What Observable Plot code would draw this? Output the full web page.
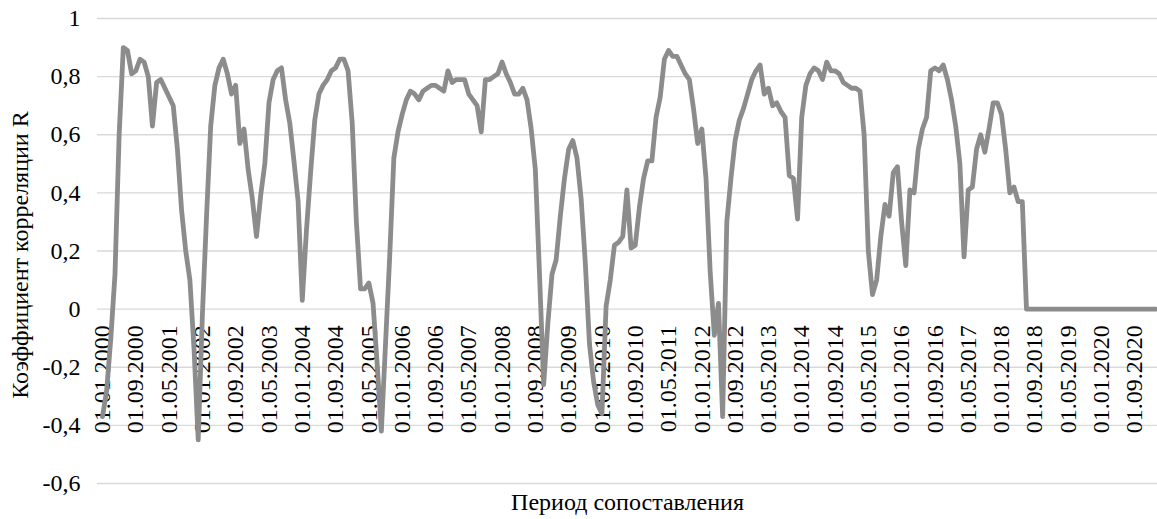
<!DOCTYPE html>
<html><head><meta charset="utf-8">
<script src="https://cdn.jsdelivr.net/npm/d3@7"></script>
<script src="https://cdn.jsdelivr.net/npm/@observablehq/plot@0.6"></script>
<style>
body{margin:0;background:#fff}
#chart svg, #chart svg text{font-family:"Liberation Serif","Times New Roman",serif !important;}
</style>
</head><body><div id="chart"></div>
<script>
const startYear = 2000;
// monthly correlation coefficient R, from 01.01.2000
const values = [
  -0.37, -0.28, -0.1, 0.12, 0.6, 0.9, 0.89, 0.81, 0.82, 0.86,
  0.85, 0.8, 0.63, 0.78, 0.79, 0.76, 0.73, 0.7, 0.55, 0.34,
  0.2, 0.1, -0.14, -0.45, -0.02, 0.32, 0.63, 0.77, 0.83, 0.86,
  0.81, 0.74, 0.77, 0.57, 0.62, 0.48, 0.38, 0.25, 0.39, 0.5,
  0.71, 0.79, 0.82, 0.83, 0.72, 0.64, 0.51, 0.37, 0.03, 0.27,
  0.47, 0.65, 0.74, 0.77, 0.79, 0.82, 0.83, 0.86, 0.86, 0.82,
  0.64, 0.3, 0.07, 0.07, 0.09, 0.02, -0.19, -0.42, -0.12, 0.18,
  0.52, 0.61, 0.67, 0.72, 0.75, 0.74, 0.72, 0.75, 0.76, 0.77,
  0.77, 0.76, 0.75, 0.82, 0.78, 0.79, 0.79, 0.79, 0.74, 0.72,
  0.7, 0.61, 0.79, 0.79, 0.8, 0.81, 0.85, 0.81, 0.78, 0.74,
  0.74, 0.76, 0.72, 0.62, 0.48, 0.12, -0.26, -0.05, 0.12, 0.17,
  0.32, 0.45, 0.55, 0.58, 0.52, 0.38, 0.16, -0.12, -0.25, -0.33,
  -0.36, 0.01, 0.1, 0.22, 0.23, 0.25, 0.41, 0.21, 0.22, 0.35,
  0.45, 0.51, 0.51, 0.66, 0.73, 0.86, 0.89, 0.87, 0.87, 0.84,
  0.81, 0.79, 0.69, 0.57, 0.62, 0.45, 0.13, -0.09, 0.02, -0.37,
  0.3, 0.45, 0.58, 0.65, 0.69, 0.74, 0.79, 0.82, 0.84, 0.74,
  0.76, 0.7, 0.71, 0.68, 0.66, 0.46, 0.45, 0.31, 0.66, 0.77,
  0.81, 0.83, 0.82, 0.79, 0.85, 0.82, 0.82, 0.81, 0.78, 0.77,
  0.76, 0.76, 0.75, 0.6, 0.2, 0.05, 0.1, 0.25, 0.36, 0.32,
  0.47, 0.49, 0.3, 0.15, 0.41, 0.4, 0.55, 0.62, 0.66, 0.82,
  0.83, 0.82, 0.84, 0.79, 0.72, 0.63, 0.5, 0.18, 0.41, 0.42,
  0.55, 0.6, 0.54, 0.62, 0.71, 0.71, 0.67, 0.55, 0.4, 0.42,
  0.37, 0.37, 0, 0, 0, 0, 0, 0, 0, 0,
  0, 0, 0, 0, 0, 0, 0, 0, 0, 0,
  0, 0, 0, 0, 0, 0, 0, 0, 0, 0,
  0, 0, 0, 0
];
const tickLabels = [
  "01.01.2000","01.09.2000","01.05.2001","01.01.2002","01.09.2002","01.05.2003",
  "01.01.2004","01.09.2004","01.05.2005","01.01.2006","01.09.2006","01.05.2007",
  "01.01.2008","01.09.2008","01.05.2009","01.01.2010","01.09.2010","01.05.2011",
  "01.01.2012","01.09.2012","01.05.2013","01.01.2014","01.09.2014","01.05.2015",
  "01.01.2016","01.09.2016","01.05.2017","01.01.2018","01.09.2018","01.05.2019",
  "01.01.2020","01.09.2020"
];
const yTicks = [-0.6, -0.4, -0.2, 0, 0.2, 0.4, 0.6, 0.8, 1];
const yTickLabels = ["-0,6", "-0,4", "-0,2", "0", "0,2", "0,4", "0,6", "0,8", "1"];
const yTitle = "Коэффициент корреляции R";
const xTitle = "Период сопоставления";

const pad = n => String(n).padStart(2, "0");
const months = values.map((_, i) => `01.${pad(i % 12 + 1)}.${startYear + Math.floor(i / 12)}`);
const data = months.map((m, i) => ({month: m, r: values[i]}));

const serif = "Liberation Serif";
const chart = Plot.plot({
  width: 1157, height: 519,
  marginLeft: 97, marginRight: 0, marginTop: 18, marginBottom: 36,
  style: {fontFamily: serif, fontSize: "24px", background: "#fff", color: "#000"},
  x: {type: "point", domain: months, range: [102, 1155], padding: 0, axis: null},
  y: {domain: [-0.6, 1], axis: null},
  marks: [
    Plot.ruleY(yTicks, {stroke: "#d9d9d9", strokeWidth: 1.3}),
    Plot.axisY(yTicks, {tickSize: 0, tickPadding: 17, fontSize: 24, fontFamily: serif, label: null,
      tickFormat: d => yTickLabels[yTicks.indexOf(d)]}),
    Plot.text(tickLabels, {x: d => d, y: () => 0, rotate: -90, textAnchor: "end", lineAnchor: "middle", dy: 16, fontSize: 24, fontFamily: serif, fill: "#000"}),
    Plot.lineY(data, {x: "month", y: "r", stroke: "#8c8c8c", strokeWidth: 4.8, strokeLinejoin: "round"}),
    Plot.text([yTitle], {frameAnchor: "left", rotate: -90, textAnchor: "middle", lineAnchor: "middle", dx: -77, dy: 4, fontSize: 24, fontFamily: serif, fill: "#000"}),
    Plot.text([xTitle], {frameAnchor: "bottom", textAnchor: "middle", lineAnchor: "middle", dy: 19, fontSize: 24, fontFamily: serif, fill: "#000"})
  ]
});
document.getElementById("chart").append(chart);
</script>
</body></html>
